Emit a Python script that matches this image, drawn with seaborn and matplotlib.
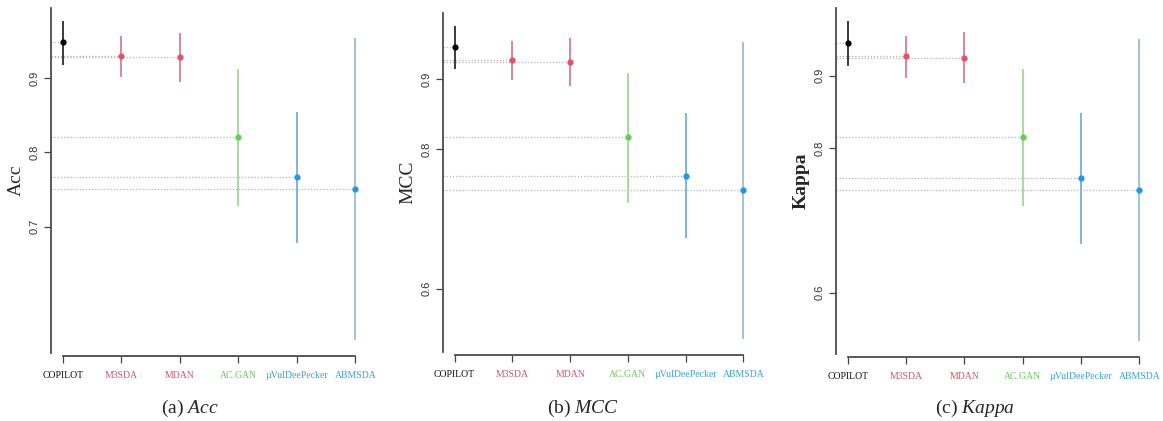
import matplotlib
matplotlib.use("Agg")
import matplotlib.pyplot as plt
import numpy as np
import pandas as pd
import seaborn as sns

methods = ["COPILOT", "M3SDA", "MDAN", "AC.GAN", "\u00b5VulDeePecker", "ABMSDA"]

acc_mean = [0.948, 0.929, 0.928, 0.821, 0.767, 0.751]
acc_low = [0.917, 0.901, 0.895, 0.728, 0.678, 0.547]
acc_high = [0.977, 0.957, 0.960, 0.912, 0.854, 0.954]

mcc_mean = [0.946, 0.927, 0.925, 0.817, 0.762, 0.741]
mcc_low = [0.915, 0.899, 0.890, 0.723, 0.672, 0.527]
mcc_high = [0.977, 0.955, 0.959, 0.909, 0.851, 0.954]

kappa_mean = [0.945, 0.927, 0.925, 0.815, 0.759, 0.742]
kappa_low = [0.914, 0.897, 0.890, 0.720, 0.668, 0.533]
kappa_high = [0.976, 0.955, 0.960, 0.909, 0.849, 0.951]

y_ticks = {"Acc": [0.7, 0.8, 0.9], "MCC": [0.6, 0.8, 0.9], "Kappa": [0.6, 0.8, 0.9]}

point_colors = ["#000000", "#DF536B", "#DF536B", "#61D04F", "#2297E6", "#2297E6"]
bar_colors = ["#3a3a3a", "#d9879a", "#d9879a", "#a9d99c", "#7fb3dc", "#a3c2d6"]
label_colors = ["#111111", "#c9566e", "#c9566e", "#6cc85a", "#3b9fd6", "#3b9fd6"]

panels = [
    ("Acc", acc_mean, acc_low, acc_high, "(a)", [51, 8, 316, 345], 190),
    ("MCC", mcc_mean, mcc_low, mcc_high, "(b)", [443, 13, 312, 339], 583),
    ("Kappa", kappa_mean, kappa_low, kappa_high, "(c)", [836, 8, 315, 346], 975),
]

W, H = 1163, 421
sns.set_theme(style="ticks")
plt.rcParams["font.family"] = ["Liberation Serif", "DejaVu Serif"]
plt.rcParams["mathtext.fontset"] = "custom"
plt.rcParams["mathtext.rm"] = "Liberation Serif"
plt.rcParams["mathtext.it"] = "Liberation Serif:italic"

fig = plt.figure(figsize=(W / 100, H / 100), dpi=100)

for name, mean, low, high, tag, box, cap_x in panels:
    x0, top, w, h = box
    ax = fig.add_axes([x0 / W, (H - top - h) / H, w / W, h / H])
    df = pd.DataFrame({"method": methods, "value": mean})
    pos = np.arange(len(methods))

    lo_all = min(low)
    hi_all = max(high)
    pad = (hi_all - lo_all) * 0.04

    ax.hlines(mean, -0.2, pos, colors="#b5b5b5", linestyles=(0, (1, 1.5)), linewidth=0.9, zorder=1)
    ax.vlines(pos, low, high, colors=bar_colors, linewidth=1.4, zorder=2)
    sns.stripplot(data=df, x="method", y="value", hue="method", palette=point_colors,
                  jitter=False, size=4.5, linewidth=0, legend=False, ax=ax, zorder=3)
    ax.set_xlim(-0.2, len(methods) - 1 + 0.2)
    ax.set_ylim(lo_all - pad, hi_all + pad)

    sns.despine(ax=ax)
    ax.spines["left"].set_color("#444444")
    ax.spines["bottom"].set_color("#444444")
    ax.spines["bottom"].set_bounds(0, len(methods) - 1)
    ax.spines["bottom"].set_position(("outward", 2))

    ax.set_yticks(y_ticks[name])
    ax.set_yticklabels([str(t) for t in y_ticks[name]], rotation=90, va="center",
                       family=["Liberation Sans"], fontsize=8, color="#333333")
    ax.tick_params(axis="y", length=5, width=0.9, color="#444444", pad=3)
    ax.tick_params(axis="x", length=5, width=0.9, color="#444444", pad=6)
    ax.set_xticks(pos)
    ax.set_xticklabels(methods, fontsize=7)
    for lab, c in zip(ax.get_xticklabels(), label_colors):
        lab.set_color(c)

    ax.set_xlabel("")
    ax.set_ylabel(name, fontsize=14, fontweight="bold" if name == "Kappa" else "normal",
                  labelpad=4)
    fig.text(cap_x / W, (H - 413) / H, tag + r" $\it{" + name + "}$",
             ha="center", va="baseline", fontsize=14)

fig.savefig("out.png", dpi=100)
